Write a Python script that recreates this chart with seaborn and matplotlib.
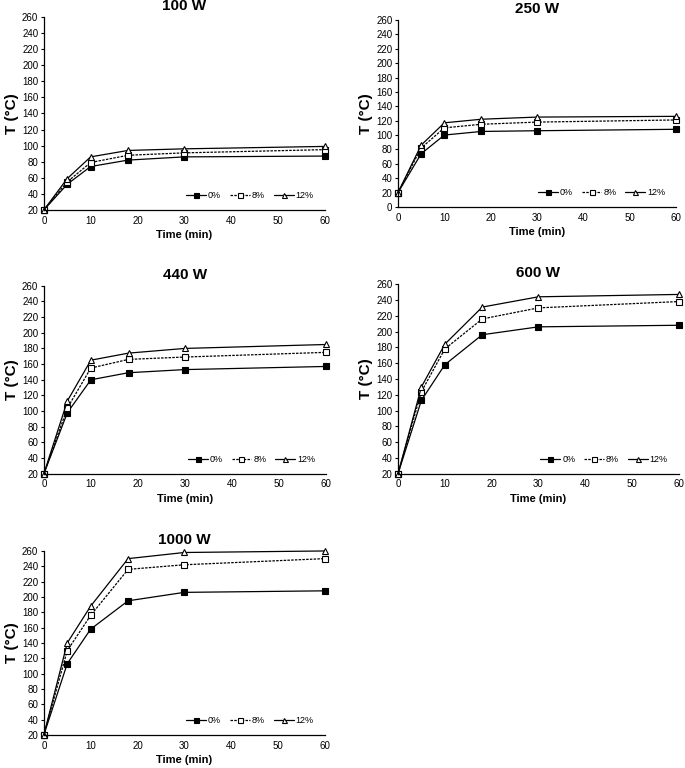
import pandas as pd
import numpy as np
import matplotlib
matplotlib.use("Agg")
import matplotlib.pyplot as plt
import seaborn as sns

sns.set_style("ticks")
plt.rcParams['font.family'] = ['Liberation Sans', 'DejaVu Sans']
plt.rcParams.update({'text.color': 'black', 'axes.labelcolor': 'black',
                     'xtick.color': 'black', 'ytick.color': 'black',
                     'axes.edgecolor': 'black'})

time_min = [0, 5, 10, 18, 30, 60]
series_labels = ['0%', '8%', '12%']

# temperature readings (°C) per microwave power
t_100w = {'0%': [20, 52, 74, 82, 86, 87],
          '8%': [20, 55, 79, 88, 91, 95],
          '12%': [20, 59, 86, 94, 96, 99]}
t_250w = {'0%': [20, 74, 100, 105, 106, 108],
          '8%': [20, 82, 110, 115, 118, 121],
          '12%': [20, 86, 117, 122, 125, 126]}
t_440w = {'0%': [20, 98, 140, 149, 153, 157],
          '8%': [20, 104, 155, 166, 169, 175],
          '12%': [20, 113, 165, 174, 180, 185]}
t_600w = {'0%': [20, 113, 158, 196, 206, 208],
          '8%': [20, 124, 178, 216, 230, 238],
          '12%': [20, 130, 184, 231, 244, 247]}
t_1000w = {'0%': [20, 113, 158, 195, 206, 208],
           '8%': [20, 130, 176, 236, 242, 250],
           '12%': [20, 140, 188, 250, 258, 260]}

panels = [
    ('100 W', t_100w, 20, [0.064, 0.7266, 0.41, 0.2514]),
    ('250 W', t_250w, 0, [0.581, 0.7305, 0.406, 0.2435]),
    ('440 W', t_440w, 20, [0.064, 0.383, 0.412, 0.245]),
    ('600 W', t_600w, 20, [0.581, 0.383, 0.41, 0.247]),
    ('1000 W', t_1000w, 20, [0.064, 0.043, 0.41, 0.2396]),
]

styles = {
    '0%': dict(marker='s', linestyle='-', markerfacecolor='black'),
    '8%': dict(marker='s', linestyle=(0, (2, 1)), markerfacecolor='white'),
    '12%': dict(marker='^', linestyle='-', markerfacecolor='white'),
}

fig = plt.figure(figsize=(6.85, 7.68), dpi=100)

for title, data, ymin, pos in panels:
    ax = fig.add_axes(pos)
    df = pd.DataFrame({'time': time_min * 3,
                       'T': data['0%'] + data['8%'] + data['12%'],
                       'series': np.repeat(series_labels, len(time_min))})
    for s in series_labels:
        sub = df[df['series'] == s]
        sns.lineplot(data=sub, x='time', y='T', ax=ax, color='black',
                     linewidth=0.9, markersize=4.5, markeredgewidth=0.8,
                     markeredgecolor='black', label=s, clip_on=False,
                     **styles[s])
    ax.set_xlim(0, 60)
    ax.set_ylim(ymin, 260)
    ax.set_xticks(range(0, 61, 10))
    ax.set_yticks(range(ymin, 261, 20))
    ax.tick_params(axis='both', labelsize=7, length=2.5, width=0.8, pad=1.5)
    ax.tick_params(axis='x', length=0, pad=4)
    sns.despine(ax=ax)
    for sp in ['left', 'bottom']:
        ax.spines[sp].set_linewidth(0.9)
    ax.set_title(title, fontsize=11, fontweight='bold', pad=5)
    ax.set_xlabel('Time (min)', fontsize=8, fontweight='bold', labelpad=3)
    ax.set_ylabel('T (°C)', fontsize=11, fontweight='bold', labelpad=2)
    ax.legend(loc='lower right', bbox_to_anchor=(0.99, 0.01), ncol=3,
              frameon=False, fontsize=6.5, handlelength=2.2,
              handletextpad=0.2, columnspacing=1.0, markerscale=0.8)

fig.savefig('out.png', dpi=100)
